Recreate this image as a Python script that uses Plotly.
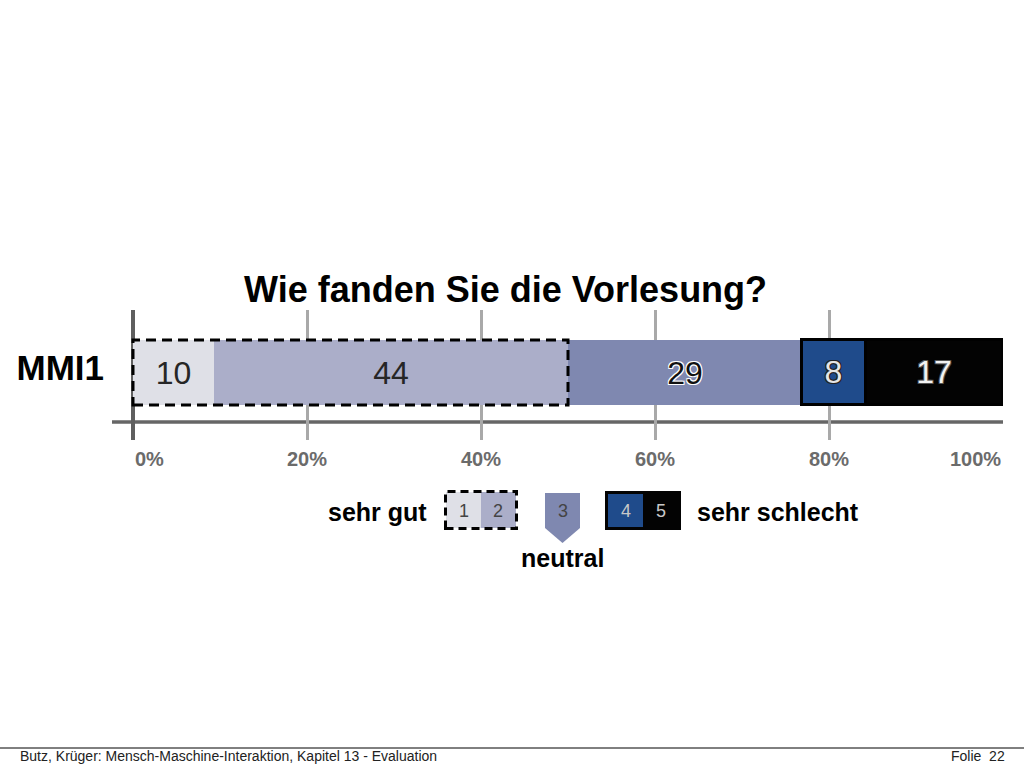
import plotly.graph_objects as go

# ---------------- data ----------------
CATEGORY = ["MMI1"]
COUNTS = [10, 44, 29, 8, 17]
SEGMENT_COLORS = ["#dfe0e7", "#abaec9", "#7f88b0", "#1f4b8b", "#030303"]
LABEL_COLORS = ["#262626", "#262626", "#111111", "#e6e6e6", "#f2f2f2"]
TICK_VALUES = [0, 20, 40, 60, 80, 100]
TICK_LABELS = ["0%", "20%", "40%", "60%", "80%", "100%"]
TITLE = "Wie fanden Sie die Vorlesung?"
LEGEND_DIGITS = ["1", "2", "3", "4", "5"]
FOOTER_LEFT = "Butz, Krüger: Mensch-Maschine-Interaktion, Kapitel 13 - Evaluation"
FOOTER_RIGHT = "Folie  22"

TOTAL = sum(COUNTS)
PCTS = [c / TOTAL * 100 for c in COUNTS]

FONT = "Liberation Sans, Arial, sans-serif"
W, H = 1024, 768
PL, PR, PT, PB = 133, 1003, 310, 440  # plot area in pixels
XMIN, XMAX = 0, 100
YMIN, YMAX = -1.0385, 0.9615


def px(x):
    return (x - PL) / (PR - PL)


def py(y):
    return (PB - y) / (PB - PT)


def xp(v):  # data x -> paper
    return (v - XMIN) / (XMAX - XMIN)


def yp(v):  # data y -> paper
    return (v - YMIN) / (YMAX - YMIN)


fig = go.Figure()

shadows = ["none", "none",
           "1px 1px 0 #fff, -1px -1px 0 #fff, 1px -1px 0 #fff, -1px 1px 0 #fff",
           "1px 1px 0 #222, -1px -1px 0 #222, 1px -1px 0 #222, -1px 1px 0 #222",
           "1px 1px 0 #555, -1px -1px 0 #555, 1px -1px 0 #555, -1px 1px 0 #555"]

for i, (pct, cnt) in enumerate(zip(PCTS, COUNTS)):
    fig.add_trace(go.Bar(
        y=CATEGORY, x=[pct], orientation="h", width=1,
        marker=dict(color=SEGMENT_COLORS[i],
                    line=dict(color="#000000", width=3 if i >= 3 else 0)),
        text=[str(cnt)], textposition="inside", insidetextanchor="middle",
        textangle=0, constraintext="none",
        textfont=dict(family=FONT, size=32, color=LABEL_COLORS[i], shadow=shadows[i]),
        hoverinfo="skip", showlegend=False,
    ))

shapes = []
# dashed box around first two segments ("sehr gut" group)
cum2 = PCTS[0] + PCTS[1]
shapes.append(dict(type="rect", xref="paper", yref="paper",
                   x0=xp(0), x1=xp(cum2), y0=yp(-0.5), y1=yp(0.5),
                   line=dict(color="#000000", width=3, dash="10px,6px"),
                   fillcolor="rgba(0,0,0,0)", layer="above"))
# horizontal axis line
shapes.append(dict(type="line", xref="paper", yref="paper",
                   x0=px(112), x1=px(1003), y0=py(422), y1=py(422),
                   line=dict(color="#666666", width=3.5), layer="below"))

# ---------- legend ----------
# sehr gut box
shapes.append(dict(type="rect", xref="paper", yref="paper",
                   x0=px(446), x1=px(481), y0=py(528), y1=py(492),
                   line=dict(width=0), fillcolor=SEGMENT_COLORS[0]))
shapes.append(dict(type="rect", xref="paper", yref="paper",
                   x0=px(481), x1=px(516), y0=py(528), y1=py(492),
                   line=dict(width=0), fillcolor=SEGMENT_COLORS[1]))
shapes.append(dict(type="rect", xref="paper", yref="paper",
                   x0=px(445.5), x1=px(516.5), y0=py(528.5), y1=py(491.5),
                   line=dict(color="#000000", width=3, dash="8px,5px"),
                   fillcolor="rgba(0,0,0,0)"))
# neutral pentagon
pts = [(545, 493), (580, 493), (580, 528), (562.5, 543), (545, 528)]
path = "M " + " L ".join(f"{px(a):.5f},{py(b):.5f}" for a, b in pts) + " Z"
shapes.append(dict(type="path", xref="paper", yref="paper", path=path,
                   fillcolor=SEGMENT_COLORS[2], line=dict(width=0)))
# sehr schlecht box
shapes.append(dict(type="rect", xref="paper", yref="paper",
                   x0=px(605), x1=px(681), y0=py(530), y1=py(491),
                   line=dict(width=0), fillcolor=SEGMENT_COLORS[4]))
shapes.append(dict(type="rect", xref="paper", yref="paper",
                   x0=px(608), x1=px(643), y0=py(527), y1=py(494),
                   line=dict(width=0), fillcolor=SEGMENT_COLORS[3]))
# footer line
shapes.append(dict(type="line", xref="paper", yref="paper",
                   x0=px(0), x1=px(1024), y0=py(748), y1=py(748),
                   line=dict(color="#000000", width=1)))

annotations = []
annotations.append(dict(text=f"<b>{TITLE}</b>", xref="paper", yref="paper",
                        x=px(505), y=py(289), xanchor="center", yanchor="middle",
                        showarrow=False, font=dict(family=FONT, size=36, color="#000000")))
for i, (v, lab) in enumerate(zip(TICK_VALUES, TICK_LABELS)):
    anchor = "left" if i == 0 else ("right" if i == len(TICK_VALUES) - 1 else "center")
    annotations.append(dict(text=f"<b>{lab}</b>", xref="x", yref="paper",
                            x=v, y=py(459), xanchor=anchor, yanchor="middle",
                            showarrow=False, font=dict(family=FONT, size=20, color="#6b6b6b")))

leg_font = dict(family=FONT, size=25, color="#000000")
annotations.append(dict(text="<b>sehr gut</b>", xref="paper", yref="paper", x=px(429), y=py(512),
                        xanchor="right", yanchor="middle", showarrow=False, font=leg_font))
annotations.append(dict(text="<b>sehr schlecht</b>", xref="paper", yref="paper", x=px(695), y=py(512),
                        xanchor="left", yanchor="middle", showarrow=False, font=leg_font))
annotations.append(dict(text="<b>neutral</b>", xref="paper", yref="paper", x=px(562), y=py(558),
                        xanchor="center", yanchor="middle", showarrow=False, font=leg_font))
digit_x = [464, 498, 562.5, 626, 661]
digit_c = ["#444444", "#444444", "#444444", "#c8c8c8", "#c8c8c8"]
for d, x, c in zip(LEGEND_DIGITS, digit_x, digit_c):
    annotations.append(dict(text=d, xref="paper", yref="paper", x=px(x), y=py(511),
                            xanchor="center", yanchor="middle", showarrow=False,
                            font=dict(family=FONT, size=18, color=c)))

annotations.append(dict(text=FOOTER_LEFT, xref="paper", yref="paper", x=px(18), y=py(756),
                        xanchor="left", yanchor="middle", showarrow=False,
                        font=dict(family="Liberation Sans Narrow, " + FONT, size=14, color="#222222")))
annotations.append(dict(text=FOOTER_RIGHT, xref="paper", yref="paper", x=px(1007), y=py(756),
                        xanchor="right", yanchor="middle", showarrow=False,
                        font=dict(family="Liberation Sans Narrow, " + FONT, size=14, color="#222222")))

fig.update_layout(
    width=W, height=H,
    margin=dict(l=PL, r=W - PR, t=PT, b=H - PB, pad=0),
    paper_bgcolor="#ffffff", plot_bgcolor="rgba(0,0,0,0)",
    barmode="stack", bargap=0,
    shapes=shapes, annotations=annotations,
    xaxis=dict(range=[XMIN, XMAX], tickvals=TICK_VALUES, showticklabels=False,
               showgrid=True, gridcolor="#a9a9a9", gridwidth=3,
               zeroline=True, zerolinecolor="#5f5f5f", zerolinewidth=4,
               showline=False, ticks="", fixedrange=True),
    yaxis=dict(range=[YMIN, YMAX], type="category", showgrid=False, zeroline=False,
               showline=False, ticks="", ticklabelstandoff=28, ticklabelshift=-5,
               tickfont=dict(family=FONT, size=35, color="#000000", weight="bold"),
               fixedrange=True),
    showlegend=False,
)

fig.write_html("out.html", config={"displayModeBar": False},
               post_script="document.body.style.margin='0';document.body.style.overflow='hidden';")
